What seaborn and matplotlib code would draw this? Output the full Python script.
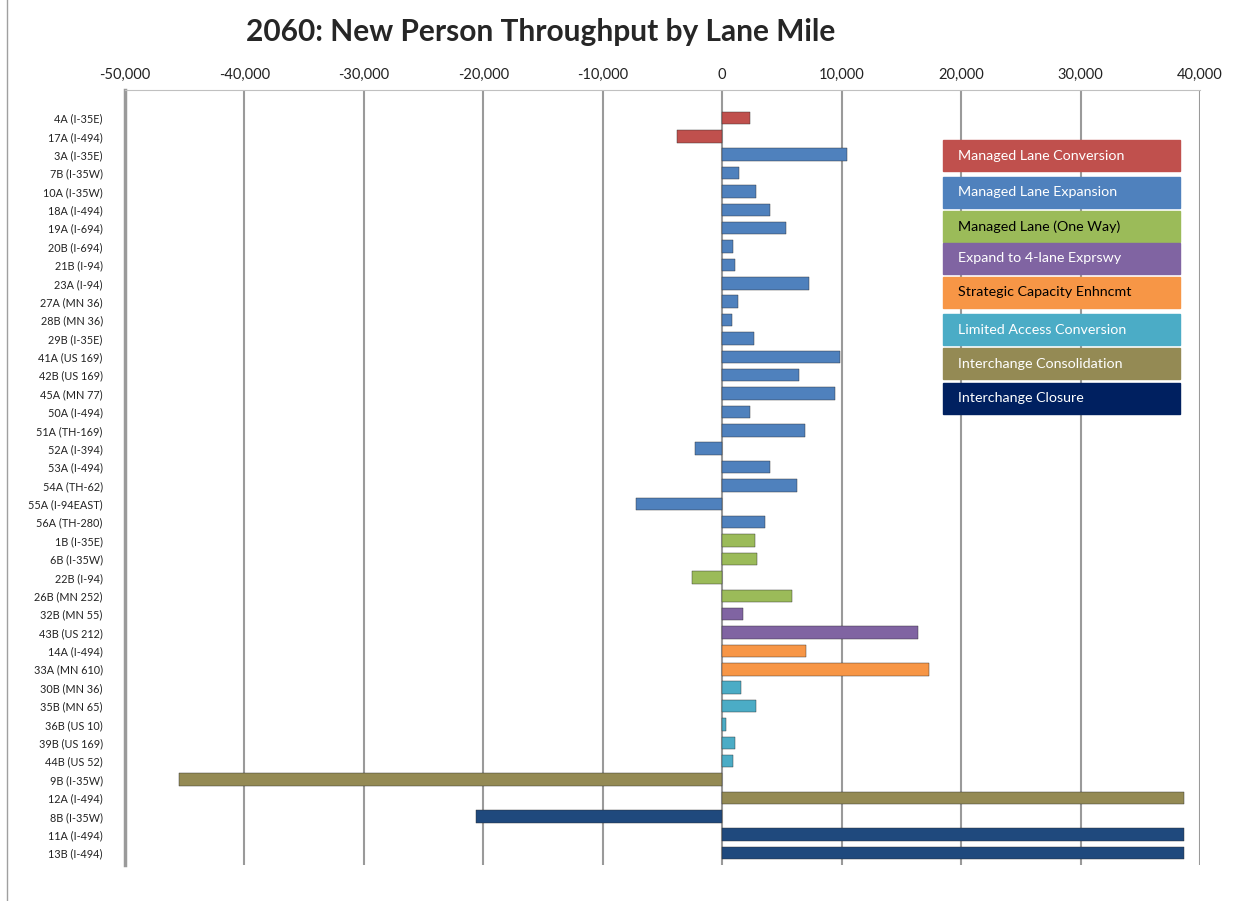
import pandas as pd
import matplotlib.pyplot as plt
import seaborn as sns
from matplotlib.patches import Rectangle
from matplotlib.ticker import FuncFormatter

# data
projects = ["4A (I-35E)", "17A (I-494)",
            "3A (I-35E)", "7B (I-35W)", "10A (I-35W)", "18A (I-494)", "19A (I-694)",
            "20B (I-694)", "21B (I-94)", "23A (I-94)", "27A (MN 36)", "28B (MN 36)",
            "29B (I-35E)", "41A (US 169)", "42B (US 169)", "45A (MN 77)", "50A (I-494)",
            "51A (TH-169)", "52A (I-394)", "53A (I-494)", "54A (TH-62)", "55A (I-94EAST)",
            "56A (TH-280)",
            "1B (I-35E)", "6B (I-35W)", "22B (I-94)", "26B (MN 252)",
            "32B (MN 55)", "43B (US 212)",
            "14A (I-494)", "33A (MN 610)",
            "30B (MN 36)", "35B (MN 65)", "36B (US 10)", "39B (US 169)", "44B (US 52)",
            "9B (I-35W)", "12A (I-494)",
            "8B (I-35W)", "11A (I-494)", "13B (I-494)"]
values = [2300, -3800,
          10450, 1400, 2800, 4000, 5300, 900, 1100, 7300, 1350, 850, 2700, 9850,
          6450, 9450, 2300, 6900, -2250, 4000, 6300, -7200, 3600,
          2750, 2900, -2500, 5800,
          1700, 16350,
          7050, 17350,
          1600, 2850, 300, 1100, 900,
          -45500, 38700,
          -20600, 38700, 38700]
types = (["Managed Lane Conversion"] * 2 + ["Managed Lane Expansion"] * 21
         + ["Managed Lane (One Way)"] * 4 + ["Expand to 4-lane Exprswy"] * 2
         + ["Strategic Capacity Enhncmt"] * 2 + ["Limited Access Conversion"] * 5
         + ["Interchange Consolidation"] * 2 + ["Interchange Closure"] * 3)

type_names = ["Managed Lane Conversion", "Managed Lane Expansion", "Managed Lane (One Way)",
              "Expand to 4-lane Exprswy", "Strategic Capacity Enhncmt",
              "Limited Access Conversion", "Interchange Consolidation", "Interchange Closure"]
bar_colors = ["#C0504D", "#4F81BD", "#9BBB59", "#8064A2", "#F79646", "#4BACC6",
              "#948A54", "#1F497D"]
legend_colors = ["#C0504D", "#4F81BD", "#9BBB59", "#8064A2", "#F79646", "#4BACC6",
                 "#948A54", "#002060"]
legend_text = ["white", "white", "black", "white", "black", "white", "white", "white"]

df = pd.DataFrame({"Project": projects, "Value": values, "Type": types})

sns.set_style("white")
plt.rcParams["font.family"] = ["Lato", "DejaVu Sans"]

fig = plt.figure(figsize=(12.49, 9.01), dpi=100)
ax = fig.add_axes([125 / 1249, 36 / 901, 1075 / 1249, 775 / 901])

for x in range(-50000, 40001, 10000):
    ax.axvline(x, color="#9a9a9a", lw=1.5, zorder=0)

sns.barplot(data=df, x="Value", y="Project", hue="Type", hue_order=type_names,
            palette=dict(zip(type_names, bar_colors)), dodge=False, width=0.68,
            orient="h", legend=False, saturation=1, edgecolor="#2a2a2a",
            linewidth=0.3, ax=ax)

ax.set_xlim(-50000, 40000)
ax.set_ylim(40.65, -1.52)
ax.xaxis.tick_top()
ax.xaxis.set_major_formatter(FuncFormatter(lambda v, p: f"{int(v):,}"))
ax.tick_params(axis="x", length=0, pad=6, labelsize=10.5, colors="#222222")
ax.tick_params(axis="y", length=0, pad=16, labelsize=7.8, colors="#222222")
ax.set_xlabel("")
ax.set_ylabel("")
for s in ["right", "bottom"]:
    ax.spines[s].set_visible(False)
ax.spines["top"].set_color("#c0c0c0")
ax.spines["left"].set_color("#9a9a9a")
ax.spines["left"].set_linewidth(2.5)

fig.text(541 / 1249, 1 - 32 / 901, "2060: New Person Throughput by Lane Mile",
         ha="center", va="center", fontsize=21.5, fontweight="bold")

# legend boxes
tops = [140, 177, 211, 243, 277, 314, 348, 383]
for i, name in enumerate(type_names):
    y0 = 1 - (tops[i] + 31) / 901
    fig.patches.append(Rectangle((943 / 1249, y0), 237 / 1249, 31 / 901,
                                 transform=fig.transFigure, color=legend_colors[i], zorder=5))
    fig.text(958 / 1249, y0 + 15.5 / 901, name, ha="left", va="center",
             fontsize=10.3, color=legend_text[i], zorder=6)

fig.patches.append(Rectangle((7 / 1249, -0.01), 1.2, 1.2, transform=fig.transFigure,
                             fill=False, edgecolor="#a0a0a0", lw=1))

fig.savefig("out.png", dpi=100)
